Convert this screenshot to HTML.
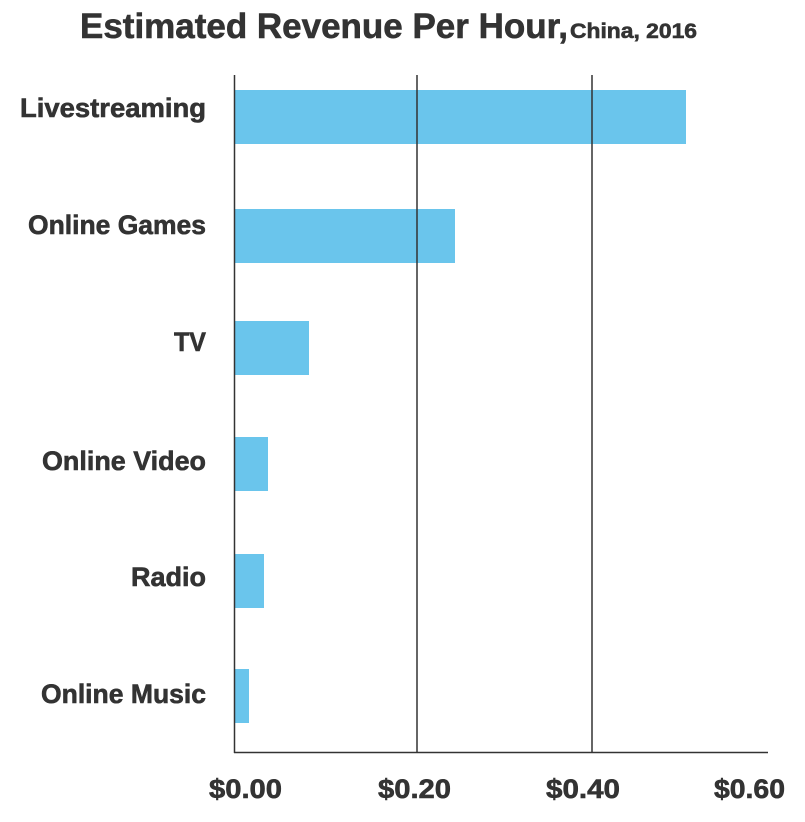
<!DOCTYPE html>
<html><head><meta charset="utf-8"><style>
html,body{margin:0;padding:0;background:#fff;}
svg{display:block;}
text{font-family:"Liberation Sans",sans-serif;font-weight:bold;fill:#333;stroke:#333;stroke-width:0.6;}
</style></head><body>
<svg width="805" height="822" viewBox="0 0 805 822" xmlns="http://www.w3.org/2000/svg">
<text x="80" y="38" font-size="35" textLength="488" lengthAdjust="spacingAndGlyphs">Estimated Revenue Per Hour,</text>
<text x="570" y="38" font-size="21" textLength="127" lengthAdjust="spacingAndGlyphs">China, 2016</text>
<g fill="#6AC5EC">
<rect x="234" y="90" width="452" height="54"/>
<rect x="234" y="209" width="221" height="54"/>
<rect x="234" y="321" width="75" height="54"/>
<rect x="234" y="437" width="34" height="54"/>
<rect x="234" y="554" width="30" height="54"/>
<rect x="234" y="669" width="15" height="54"/>
</g>
<g stroke="#333" stroke-width="1.5">
<line x1="234.5" y1="75" x2="234.5" y2="753"/>
<line x1="417" y1="75" x2="417" y2="753"/>
<line x1="592" y1="75" x2="592" y2="753"/>
<line x1="234" y1="752.5" x2="768" y2="752.5"/>
</g>
<g font-size="27">
<text x="20" y="117" textLength="186" lengthAdjust="spacingAndGlyphs">Livestreaming</text>
<text x="28" y="234" textLength="178" lengthAdjust="spacingAndGlyphs">Online Games</text>
<text x="174" y="351" textLength="32" lengthAdjust="spacingAndGlyphs">TV</text>
<text x="42" y="470" textLength="164" lengthAdjust="spacingAndGlyphs">Online Video</text>
<text x="131" y="586" textLength="75" lengthAdjust="spacingAndGlyphs">Radio</text>
<text x="41" y="703" textLength="165" lengthAdjust="spacingAndGlyphs">Online Music</text>
<text x="209" y="798" textLength="73" lengthAdjust="spacingAndGlyphs">$0.00</text>
<text x="378" y="798" textLength="73" lengthAdjust="spacingAndGlyphs">$0.20</text>
<text x="546" y="798" textLength="74" lengthAdjust="spacingAndGlyphs">$0.40</text>
<text x="714" y="798" textLength="71" lengthAdjust="spacingAndGlyphs">$0.60</text>
</g>
</svg>
</body></html>
